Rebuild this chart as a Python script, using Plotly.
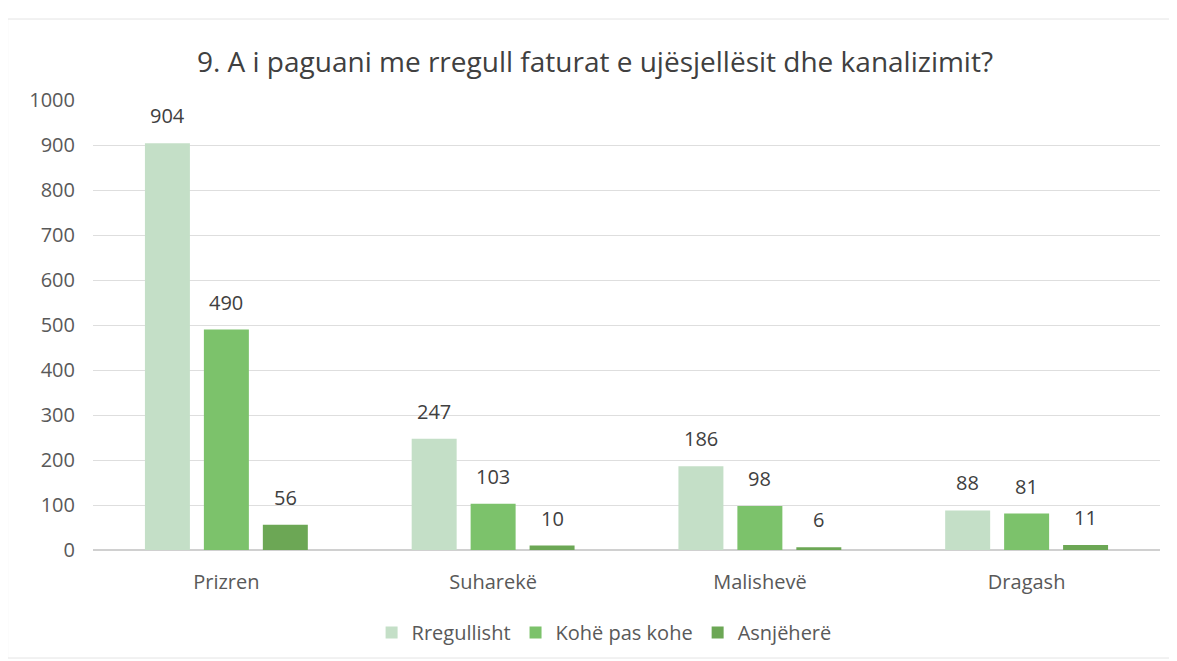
import plotly.graph_objects as go

categories = ["Prizren", "Suharekë", "Malishevë", "Dragash"]
series_names = ["Rregullisht", "Kohë pas kohe", "Asnjëherë"]
rregullisht = [904, 247, 186, 88]
kohe_pas_kohe = [490, 103, 98, 81]
asnjehere = [56, 10, 6, 11]
y_ticks = [0, 100, 200, 300, 400, 500, 600, 700, 800, 900, 1000]

colors = ["#c4dfc7", "#7cc26b", "#6ca755"]
values = [rregullisht, kohe_pas_kohe, asnjehere]

W, H = 1177, 661
ML, MR, MT, MB = 85, 25, 92, 119
BARGAP = 0.337
GROUPGAP = 0.237

fig = go.Figure()
for name, vals, col in zip(series_names, values, colors):
    fig.add_trace(go.Bar(
        x=categories, y=vals, name=name,
        marker=dict(color=col, line=dict(width=0)),
    ))

# data labels as annotations, offset within each group by the bar slot width
band = (W - ML - MR) / len(categories)
slot = band * (1 - BARGAP) / len(series_names)
n = len(series_names)
for i, vals in enumerate(values):
    for cat, v in zip(categories, vals):
        fig.add_annotation(
            x=cat, y=v, text=str(v), showarrow=False,
            xshift=(i - (n - 1) / 2) * slot, yanchor="bottom", yshift=12,
            font=dict(size=20, color="#404040", family="Open Sans"),
        )

fig.update_layout(
    width=W, height=H,
    paper_bgcolor="white", plot_bgcolor="white",
    margin=dict(l=ML, r=MR, t=MT, b=MB),
    barmode="group", bargap=BARGAP, bargroupgap=GROUPGAP,
    title=dict(text="9. A i paguani me rregull faturat e ujësjellësit dhe kanalizimit?",
               x=0.4987, xanchor="center", y=0.918, yanchor="middle",
               font=dict(size=28, color="#404040", family="Open Sans")),
    legend=dict(orientation="h", x=0.479, xanchor="center", y=-0.14, yanchor="top",
                font=dict(size=20, color="#595959", family="Open Sans"),
                itemsizing="constant", traceorder="normal", itemwidth=30),
    xaxis=dict(showgrid=False, showline=False, ticks="",
               tickfont=dict(size=20, color="#595959", family="Open Sans"),
               ticklabelstandoff=18),
    yaxis=dict(range=[0, 1000], tickvals=y_ticks, showgrid=True, gridcolor="#dedede",
               gridwidth=1, zeroline=True, zerolinecolor="#d0d0d0", showline=False,
               ticks="", tickfont=dict(size=20, color="#595959", family="Open Sans"),
               ticklabelstandoff=17),
    shapes=[dict(type="rect", xref="paper", yref="paper", x0=-0.08, x1=1.01,
                 y0=-0.24, y1=1.18, line=dict(color="#e4e4e4", width=1))],
)

fig.write_html("out.html")
